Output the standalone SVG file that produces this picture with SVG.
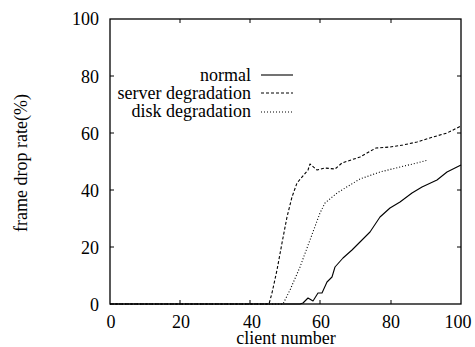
<svg xmlns="http://www.w3.org/2000/svg" width="475" height="347" viewBox="0 0 475 347">
<style>
text{font-family:'Liberation Serif','Times New Roman',serif;font-size:18px;fill:#000}
.yt{text-anchor:end}
.xt{text-anchor:middle}
.ax{fill:none;stroke:#000;stroke-width:1.3}
.tk{stroke:#000;stroke-width:1}
.c{fill:none;stroke:#000;stroke-width:1.1;stroke-linejoin:round}
.dash{stroke-dasharray:3 2}
.dot{stroke-dasharray:1 2}
</style>
<rect width="475" height="347" fill="#fff"/>
<g id="axes">
<rect class="ax" x="110" y="19" width="351" height="285"/>
<path class="tk" d="M110 247h4M110 190h4M110 133h4M110 76h4M461 247h-4M461 190h-4M461 133h-4M461 76h-4M180 304v-4M250 304v-4M320 304v-4M391 304v-4M180 19v4M250 19v4M320 19v4M391 19v4"/>
<text class="yt" x="99" y="25">100</text>
<text class="yt" x="99" y="83">80</text>
<text class="yt" x="99" y="140">60</text>
<text class="yt" x="99" y="197">40</text>
<text class="yt" x="99" y="254">20</text>
<text class="yt" x="99" y="311">0</text>
<text class="xt" x="111" y="328">0</text>
<text class="xt" x="181" y="328">20</text>
<text class="xt" x="252" y="328">40</text>
<text class="xt" x="321" y="328">60</text>
<text class="xt" x="391" y="328">80</text>
<text class="xt" x="458" y="328">100</text>
<text class="xt" x="286" y="344">client number</text>
<text class="xt" transform="translate(27 163) rotate(-90)">frame drop rate(%)</text>
</g>
<g id="legend">
<text class="yt" x="251" y="81">normal</text>
<text class="yt" x="251" y="99">server degradation</text>
<text class="yt" x="251" y="117">disk degradation</text>
<path class="c" d="M261 75H293"/>
<path class="c dash" d="M261 93H293"/>
<path class="c dot" d="M261 112H293"/>
</g>
<g id="connectors">
<path id="normal" class="c" d="M110 304H300L303 303L308 298L313 301L318 293L322 293L327 282L332 277L335 267L343 258L352 250L360 242L370 232L380 217L390 208L400 202L412 193L422 187L437 180L447 172L457 167L461 165"/>
<path id="server" class="c dash" d="M110 304H269L272 293L277 270L282 243L287 217L292 197L297 183L308 170L310 164L317 170L325 168L335 169L342 163L360 157L376 148L390 147L403 145L417 142L433 137L447 133L461 126"/>
<path id="disk" class="c dot" d="M110 304H283L290 290L300 267L310 240L320 213L325 203L337 193L350 185L360 179L380 172L400 167L417 163L428 160"/>
</g>
</svg>
